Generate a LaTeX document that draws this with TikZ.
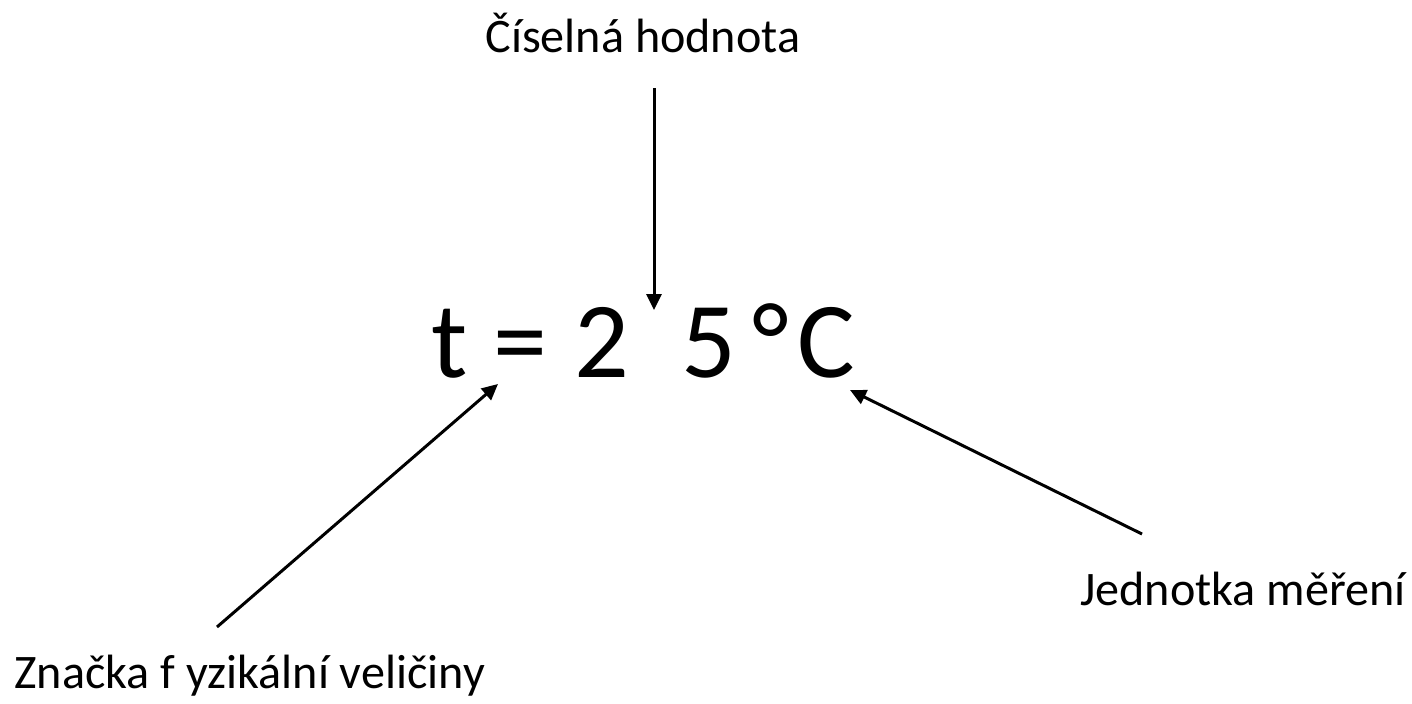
\documentclass[tikz,border=0pt]{standalone}
\usepackage{fontspec}
\setmainfont{Carlito}
\usepackage{tikz}
\usetikzlibrary{arrows.meta, positioning}
\tikzset{
  label arrow/.style={-{Triangle[length=0.32cm,width=0.3cm]}, line width=1.7pt},
}
\newcommand{\widespaces}{\spaceskip=0.245em\relax}

\begin{document}
\begin{tikzpicture}[x=0.02cm, y=-0.02cm,
    caption/.style={font=\fontsize{27.4}{33}\selectfont, inner sep=0pt, anchor=base west},
    formula/.style={font=\fontsize{61.5}{72}\selectfont, inner sep=0pt, anchor=base west}]
  \useasboundingbox (0,0) rectangle (1412,703);
  % Nodes
  \node[formula] (teplota) at (431,377) {\widespaces t = 2\ \ 5\hspace{0.15em}°\kern0.07em\relax C};
  \node[caption] (hodnota) at (485,52)  {Číselná hodnota};
  \node[caption] (jednotka)at (1080,605) {Jednotka měření};
  \node[caption] (znacka)  at (14,688)  {Značka f yzikální veličiny};
  % Arrow ends
  \coordinate (hodnotaA) at (654,88);
  \coordinate (hodnotaB) at (654,310);
  \coordinate (znackaA)  at (217,627);
  \coordinate (znackaB)  at (498,384);
  \coordinate (jednotkaA)at (1142,534);
  \coordinate (jednotkaB)at (850,390);
  % Arrows
  \draw[label arrow] (hodnotaA)  -- (hodnotaB);
  \draw[label arrow] (znackaA)   -- (znackaB);
  \draw[label arrow] (jednotkaA) -- (jednotkaB);
\end{tikzpicture}
\end{document}
